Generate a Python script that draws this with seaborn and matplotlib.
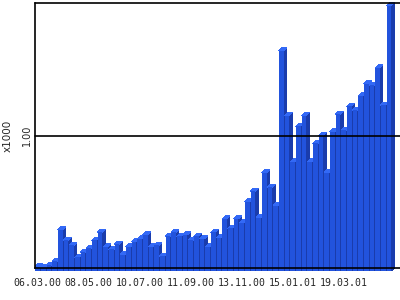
import matplotlib
matplotlib.use("Agg")
import matplotlib.pyplot as plt
from matplotlib.patches import Polygon
import seaborn as sns
import pandas as pd
import numpy as np

values = [0.01, 0.00, 0.02, 0.05, 0.29, 0.21, 0.17, 0.08, 0.12, 0.15,
          0.21, 0.27, 0.16, 0.14, 0.18, 0.10, 0.16, 0.20, 0.22, 0.25,
          0.16, 0.17, 0.09, 0.24, 0.27, 0.24, 0.25, 0.21, 0.24, 0.22,
          0.16, 0.27, 0.23, 0.37, 0.30, 0.37, 0.34, 0.50, 0.58, 0.38,
          0.72, 0.61, 0.47, 1.64, 1.15, 0.80, 1.07, 1.15, 0.80, 0.94,
          1.00, 0.72, 1.03, 1.16, 1.04, 1.22, 1.19, 1.30, 1.39, 1.38,
          1.51, 1.23, 1.98]
week = list(range(len(values)))
tick_pos = [0, 9, 18, 27, 36, 45, 54]
tick_labels = ["06.03.00", "08.05.00", "10.07.00", "11.09.00",
               "13.11.00", "15.01.01", "19.03.01"]

front_c = "#2253DD"
side_c = "#1A3CAC"
top_c = "#3369F6"

sns.set_style("white")
plt.rcParams['font.family'] = ['DejaVu Sans']

fig = plt.figure(figsize=(4, 3), dpi=100)
ax = fig.add_axes([35/400, 32/300, 365/400, 265/300])

df = pd.DataFrame({"week": week, "value": values})
sns.barplot(data=df, x="week", y="value", color=front_c, saturation=1,
            width=0.83, ax=ax, linewidth=0, native_scale=True)

dx = 0.53            # depth in x (data units)
dy = 3 / 132 * 1.0   # depth in y (data units)
for i, p in enumerate(ax.patches):
    x = p.get_x(); w = p.get_width(); h = p.get_height()
    p.set_y(-dy); p.set_height(h + dy)
    p.set_clip_on(False)
    p.set_antialiased(False)
    p.set_zorder(2 + 0.01 * i + 0.005)
    side = Polygon([(x + w, -dy), (x + w + dx, 0), (x + w + dx, h + dy), (x + w, h)],
                   closed=True, facecolor=side_c, edgecolor="none",
                   clip_on=False, antialiased=False, zorder=2 + 0.01 * i)
    top = Polygon([(x, h), (x + dx, h + dy), (x + w + dx, h + dy), (x + w, h)],
                  closed=True, facecolor=top_c, edgecolor="none",
                  clip_on=False, antialiased=False, zorder=2 + 0.01 * i)
    ax.add_patch(side)
    ax.add_patch(top)

ax.set_xlim(-0.45, 63.95)
ax.set_ylim(0, 2.0)
for yv in [1.0, 2.0]:
    ax.axhline(yv, color="black", lw=1.2, zorder=5, clip_on=False)

ax.set_xticks(tick_pos)
ax.set_xticklabels(tick_labels, fontfamily="DejaVu Sans Mono", fontsize=7.1)
ax.set_yticks([1.0])
ax.set_yticklabels(["1.00"], rotation=90, va="center", fontsize=7)
ax.tick_params(axis="both", length=0)
ax.tick_params(axis="x", pad=7)
ax.tick_params(axis="y", pad=2)
ax.set_xlabel("")
ax.set_ylabel("x1000", fontsize=7.5, labelpad=7)

for s in ["top", "right"]:
    ax.spines[s].set_visible(False)
for s in ["left", "bottom"]:
    ax.spines[s].set_color("black")
    ax.spines[s].set_linewidth(1.2)
    ax.spines[s].set_zorder(5)

fig.savefig("out.png", dpi=100)
